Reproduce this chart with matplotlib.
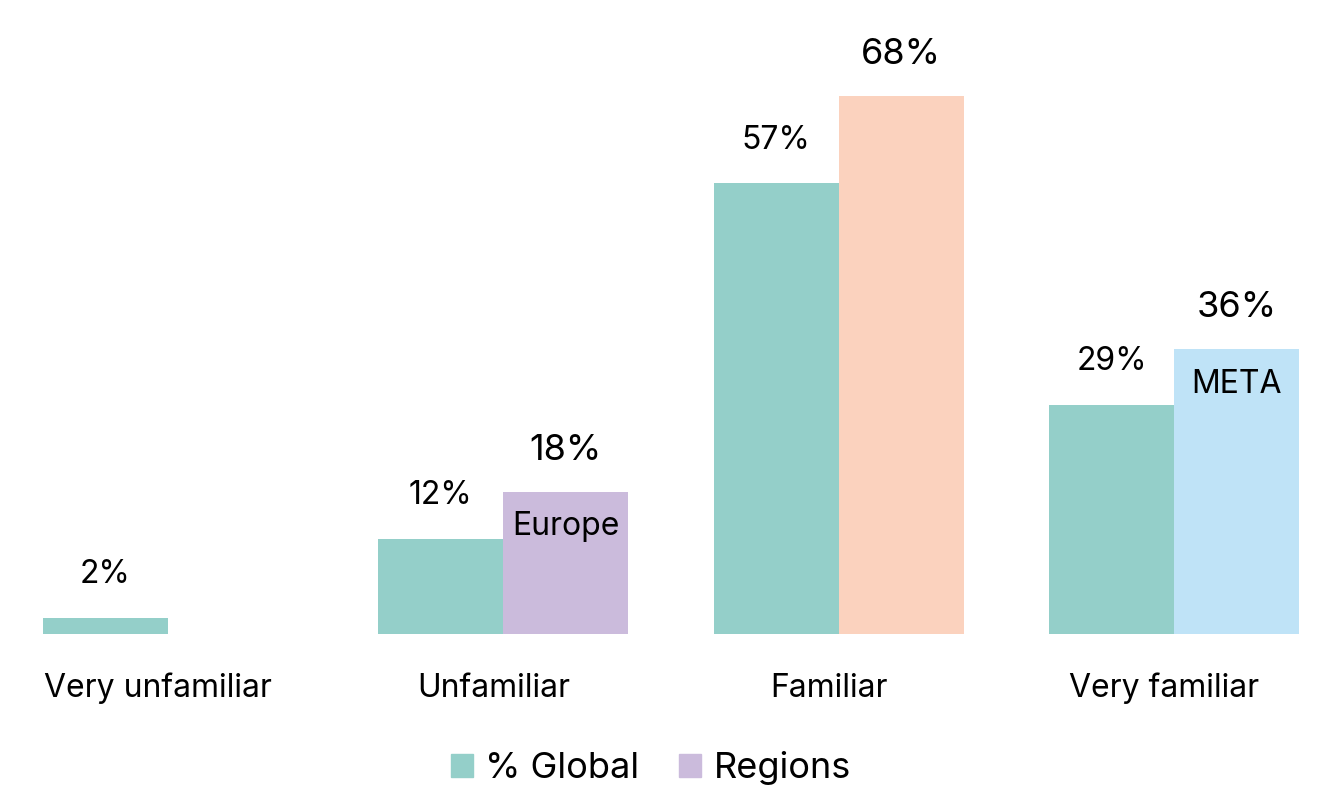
import numpy as np
import matplotlib
matplotlib.use("Agg")
import matplotlib.pyplot as plt
from matplotlib.patches import Patch
from matplotlib.transforms import ScaledTranslation

plt.rcParams['font.family'] = ['Inter', 'DejaVu Sans']

# Data
categories = ["Very unfamiliar", "Unfamiliar", "Familiar", "Very familiar"]
global_pct = [2, 12, 57, 29]
region_pct = [None, 18, 68, 36]
region_names = [None, "Europe", None, "META"]
region_colors = [None, "#cbbbdc", "#fbd2be", "#bfe3f7"]
global_color = "#94cfc9"

fig = plt.figure(figsize=(13.42, 7.90), dpi=100)
ax = fig.add_axes([0.0, 0.1975, 1.0, 0.7506])

x = np.arange(len(categories))
width = 0.373

gbars = ax.bar(x - width / 2, global_pct, width, color=global_color)
for bar, v in zip(gbars, global_pct):
    ax.annotate(f"{v}%", (bar.get_x() + bar.get_width() / 2, v),
                xytext=(0, 20), textcoords="offset points",
                ha="center", va="bottom", fontsize=23)

for i, (v, name, c) in enumerate(zip(region_pct, region_names, region_colors)):
    if v is None:
        continue
    b = ax.bar(x[i] + width / 2, v, width, color=c)[0]
    cx = b.get_x() + b.get_width() / 2
    ax.annotate(f"{v}%", (cx, v), xytext=(0, 18), textcoords="offset points",
                ha="center", va="bottom", fontsize=26)
    if name:
        ax.annotate(name, (cx, v), xytext=(0, -14), textcoords="offset points",
                    ha="center", va="top", fontsize=23)

ax.set_xlim(-0.5, 3.5)
ax.set_ylim(0, 75)
ax.set_xticks(x)
ax.set_xticklabels(categories, fontsize=23)
ax.tick_params(axis="x", length=0, pad=28)
# labels sit slightly left of the group centre in the original
shift = ScaledTranslation(-10 / 100, 0, fig.dpi_scale_trans)
for lbl in ax.get_xticklabels():
    lbl.set_transform(lbl.get_transform() + shift)
ax.set_yticks([])
for s in ax.spines.values():
    s.set_visible(False)

handles = [Patch(color=global_color, label="% Global"),
           Patch(color="#cbbbdc", label="Regions")]
fig.legend(handles=handles, loc="center", bbox_to_anchor=(0.485, 0.028),
           ncol=2, frameon=False, fontsize=26, handlelength=0.6,
           handleheight=0.6, handletextpad=0.35, columnspacing=1.1)

fig.savefig("out.png", dpi=100)
